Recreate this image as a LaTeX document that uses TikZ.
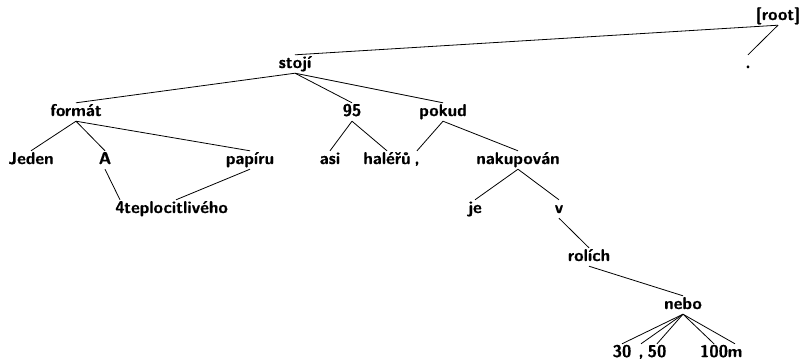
\documentclass[tikz,border=0pt]{standalone}
\usepackage{fontspec}
\newfontfamily\treefont{lmsans10-bold.otf}[FakeBold=0.6]
\begin{document}
\begin{tikzpicture}[x=1pt,y=-1pt,
  word/.style={font=\treefont\fontsize{17}{20}\selectfont,
    text height=12pt, text depth=4pt, inner sep=1pt},
  dep/.style={line width=.8pt}]
  \useasboundingbox (0,0) rectangle (801,360);

  % rows of the tree
  \node [word] (root) at (778,16) {[root]};

  \node [word] (stoji) at (295,64) {stojí};
  \node [word] (dot)   at (748,64) {.};

  \node [word] (format) at (76,112)  {formát};
  \node [word] (n95)    at (352,112) {95};
  \node [word] (pokud)  at (443,112) {pokud};

  \node [word] (jeden)  at (31,160)  {Jeden};
  \node [word] (A)      at (105,160) {A};
  \node [word] (papiru) at (250,160) {papíru};
  \node [word] (asi)    at (330,160) {asi};
  \node [word] (haleru) at (387,160) {haléřů};
  \node [word] (commaA) at (417,160) {,};
  \node [word] (nakup)  at (518,160) {nakupován};

  \node [word] (four)   at (120,209) {4};
  \node [word] (teplo)  at (176,209) {teplocitlivého};
  \node [word] (je)     at (475,209) {je};
  \node [word] (v)      at (559,209) {v};

  \node [word] (rolich) at (589,257) {rolích};

  \node [word] (nebo)   at (683,305) {nebo};

  \node [word] (n30)    at (622,353) {30};
  \node [word] (commaB) at (641,353) {,};
  \node [word] (n50)    at (657,353) {50};
  \node [word] (n100)   at (714,353) {100};
  \node [word] (m)      at (735,353) {m};

  % dependencies
  \foreach \p/\c in {root/stoji, root/dot,
      stoji/format, stoji/n95, stoji/pokud,
      format/jeden, format/A, format/papiru,
      A/four, papiru/teplo,
      n95/asi, n95/haleru,
      pokud/commaA, pokud/nakup,
      nakup/je, nakup/v,
      v/rolich, rolich/nebo,
      nebo/n30, nebo/commaB, nebo/n50, nebo/n100, nebo/m}
  \draw [dep] (\p.south) -- (\c.north);
\end{tikzpicture}
\end{document}
